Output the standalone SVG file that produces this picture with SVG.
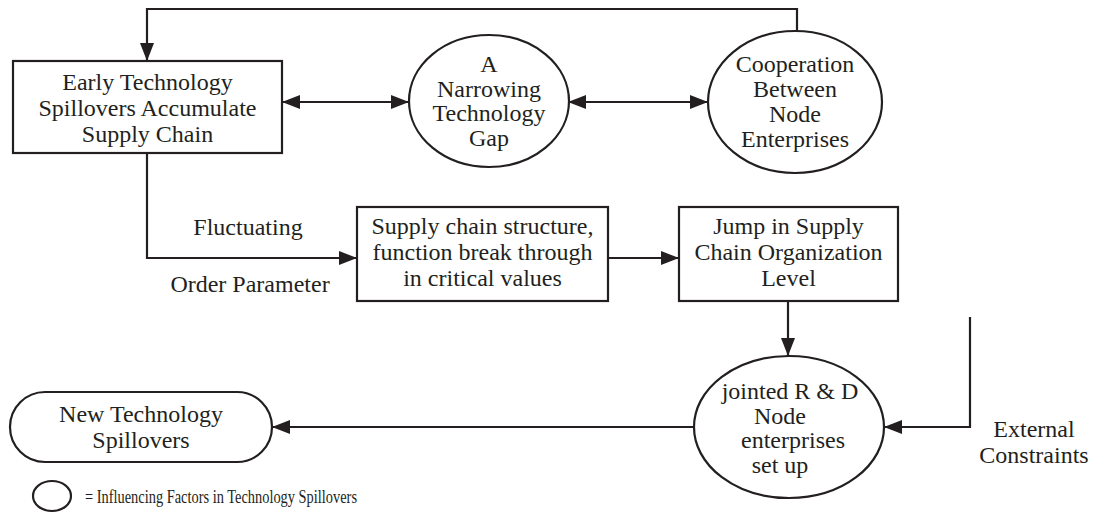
<svg xmlns="http://www.w3.org/2000/svg" width="1094" height="514" viewBox="0 0 1094 514">
  <defs>
    <marker id="arrowEnd" viewBox="0 0 18 14" refX="18" refY="7" markerWidth="18" markerHeight="14" markerUnits="userSpaceOnUse" orient="auto">
      <path d="M0,0 L18,7 L0,14 Z" fill="#231f20"/>
    </marker>
    <marker id="arrowStart" viewBox="0 0 18 14" refX="0" refY="7" markerWidth="18" markerHeight="14" markerUnits="userSpaceOnUse" orient="auto">
      <path d="M18,0 L0,7 L18,14 Z" fill="#231f20"/>
    </marker>
    <style>
      .shape { fill: #ffffff; stroke: #231f20; stroke-width: 2.2; }
      .edge { fill: none; stroke: #231f20; stroke-width: 2.2; }
      .lbl { font-family: "Liberation Serif", "Times New Roman", serif; font-size: 24px; fill: #231f20; text-anchor: middle; }
      .legend { font-family: "Liberation Serif", "Times New Roman", serif; font-size: 18px; fill: #231f20; }
    </style>
  </defs>

  <rect width="1094" height="514" fill="#ffffff"/>

  <!-- connectors -->
  <g id="connectors">
    <!-- feedback loop from cooperation back to early spillovers -->
    <path class="edge" d="M797,31 V9 H147 V61" marker-end="url(#arrowEnd)"/>
    <line class="edge" x1="282" y1="102" x2="409" y2="102" marker-start="url(#arrowStart)" marker-end="url(#arrowEnd)"/>
    <line class="edge" x1="568" y1="102" x2="708" y2="102" marker-start="url(#arrowStart)" marker-end="url(#arrowEnd)"/>
    <path class="edge" d="M147,153 V258 H357" marker-end="url(#arrowEnd)"/>
    <line class="edge" x1="608" y1="258" x2="679" y2="258" marker-end="url(#arrowEnd)"/>
    <line class="edge" x1="788" y1="301" x2="788" y2="356" marker-end="url(#arrowEnd)"/>
    <path class="edge" d="M970,317 V427 H884" marker-end="url(#arrowEnd)"/>
    <line class="edge" x1="694" y1="427" x2="272" y2="427" marker-end="url(#arrowEnd)"/>
  </g>

  <!-- edge labels -->
  <g id="edge-labels">
    <text class="lbl" x="248" y="235">Fluctuating</text>
    <text class="lbl" x="250" y="292">Order Parameter</text>
    <text class="lbl" x="1034" y="437">External</text>
    <text class="lbl" x="1034" y="463">Constraints</text>
  </g>

  <g id="early-spillovers">
    <rect class="shape" x="13" y="61" width="269" height="92"/>
    <text class="lbl" x="147.5" y="90">Early Technology</text>
    <text class="lbl" x="147.5" y="116">Spillovers Accumulate</text>
    <text class="lbl" x="147.5" y="142">Supply Chain</text>
  </g>

  <g id="narrowing-gap">
    <ellipse class="shape" cx="489" cy="101" rx="80" ry="66"/>
    <text class="lbl" x="489" y="72">A</text>
    <text class="lbl" x="489" y="97">Narrowing</text>
    <text class="lbl" x="489" y="121">Technology</text>
    <text class="lbl" x="489" y="146">Gap</text>
  </g>

  <g id="cooperation">
    <ellipse class="shape" cx="795" cy="102" rx="87" ry="71"/>
    <text class="lbl" x="795" y="72">Cooperation</text>
    <text class="lbl" x="795" y="97">Between</text>
    <text class="lbl" x="795" y="122">Node</text>
    <text class="lbl" x="795" y="147">Enterprises</text>
  </g>

  <g id="structure-break">
    <rect class="shape" x="357" y="207" width="251" height="94"/>
    <text class="lbl" x="482.5" y="234">Supply chain structure,</text>
    <text class="lbl" x="482.5" y="260">function break through</text>
    <text class="lbl" x="482.5" y="286">in critical values</text>
  </g>

  <g id="organization-jump">
    <rect class="shape" x="679" y="207" width="219" height="94"/>
    <text class="lbl" x="788.5" y="234">Jump in Supply</text>
    <text class="lbl" x="788.5" y="260">Chain Organization</text>
    <text class="lbl" x="788.5" y="286">Level</text>
  </g>

  <g id="joint-rd">
    <ellipse class="shape" cx="789" cy="427" rx="95" ry="71"/>
    <text class="lbl" x="790" y="399">jointed R &amp; D</text>
    <text class="lbl" x="780" y="424">Node</text>
    <text class="lbl" x="793" y="448">enterprises</text>
    <text class="lbl" x="780" y="473">set up</text>
  </g>

  <g id="new-spillovers">
    <rect class="shape" x="10" y="392" width="262" height="70" rx="35" ry="35"/>
    <text class="lbl" x="141" y="422">New Technology</text>
    <text class="lbl" x="141" y="448">Spillovers</text>
  </g>

  <g id="legend">
    <ellipse class="shape" cx="52" cy="496" rx="19" ry="15"/>
    <text class="legend" x="85" y="503" textLength="272" lengthAdjust="spacingAndGlyphs">= Influencing Factors in Technology Spillovers</text>
  </g>
</svg>
